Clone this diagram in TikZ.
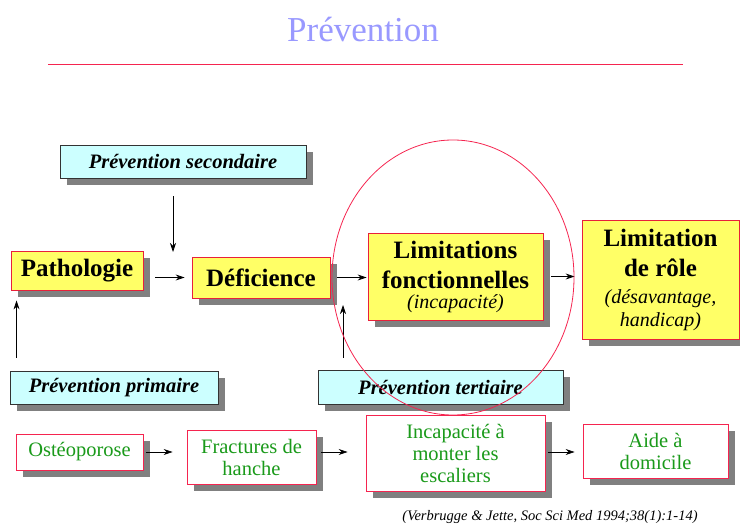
\documentclass[tikz,border=0pt]{standalone}
\usepackage{fontspec}
\setmainfont{Liberation Serif}[ItalicFont={Liberation Serif Italic}, BoldItalicFont={Liberation Serif Bold Italic}]
\usetikzlibrary{arrows.meta,shadows}

\definecolor{boxyellow}{HTML}{FFFF66}
\definecolor{boxcyan}{HTML}{CCFFFF}
\definecolor{boxred}{HTML}{E8203A}
\definecolor{lowred}{HTML}{F5244F}
\definecolor{txtgreen}{HTML}{1A9A1A}
\definecolor{titleblue}{HTML}{9999FF}
\definecolor{shadowgray}{HTML}{808080}

\tikzset{
  shade box/.style={drop shadow={shadow xshift=7pt, shadow yshift=-7pt, fill=shadowgray, opacity=1}},
  mainbox/.style={shade box, draw=boxred, line width=0.9pt, fill=boxyellow, inner sep=0pt,
    align=center, font=\bfseries\fontsize{25}{30}\selectfont},
  prevbox/.style={shade box, draw=black!80, line width=0.9pt, fill=boxcyan, inner sep=0pt,
    font=\bfseries\itshape\fontsize{20.5}{24}\selectfont},
  casebox/.style={shade box, draw=lowred, line width=0.9pt, fill=white, inner sep=0pt,
    align=center, text=txtgreen, font=\fontsize{20.5}{22}\selectfont},
  arr/.style={-{Stealth[length=9pt,width=6pt,inset=3pt]}, line width=0.7pt}
}

\begin{document}
\begin{tikzpicture}[x=1pt,y=-1pt]
  \useasboundingbox (0,0) rectangle (740,524);
  % Title and rule
  \node[anchor=base, text=titleblue, font=\fontsize{35}{40}\selectfont] (title) at (363,42) {Prévention};
  \draw[line width=0.9pt, color=lowred] (48,64) -- (683,64);

  % Prevention labels
  \node[prevbox, minimum width=246pt, minimum height=33pt] (sec) at (183,161.5) {Prévention secondaire};
  \node[prevbox, minimum width=208pt, minimum height=33pt] (prim) at (114,387.5) {Prévention primaire};
  \node[prevbox, minimum width=245pt, minimum height=34pt] (tert) at (440.5,387) {Prévention tertiaire};

  % Main chain
  \node[mainbox, minimum width=132pt, minimum height=39pt] (path) at (77,270.5) {Pathologie};
  \node[mainbox, minimum width=138pt, minimum height=41pt] (def) at (261,277.5) {Déficience};
  \node[mainbox, minimum width=175pt, minimum height=87pt] (limf) at (455.5,276.5)
    {Limitations\\fonctionnelles\\[-10pt]{\mdseries\itshape\fontsize{20}{21}\selectfont (incapacité)}};
  \node[mainbox, minimum width=157pt, minimum height=119pt] (limr) at (660.5,279.5)
    {Limitation\\de rôle\\[-3pt]{\mdseries\itshape\fontsize{20}{21}\selectfont (désavantage,}\\[-7pt]{\mdseries\itshape\fontsize{20}{21}\selectfont handicap)}};

  % Example chain
  \node[casebox, minimum width=127pt, minimum height=36pt] (ost) at (79.5,452) {Ostéoporose};
  \node[casebox, minimum width=129pt, minimum height=54pt] (frac) at (251.5,457) {Fractures de\\hanche};
  \node[casebox, minimum width=179pt, minimum height=76pt] (inc) at (455.5,453) {Incapacité à\\monter les\\escaliers};
  \node[casebox, minimum width=145pt, minimum height=54pt] (aide) at (655.5,451) {Aide à\\domicile};

  % Free ends of the prevention arrows
  \coordinate (secend) at (173,252);
  \coordinate (tertend) at (343,305);

  % Arrows, main chain
  \draw[arr, shorten <=12pt, shorten >=7pt] (path.east |- def.west) -- (def.west);
  \draw[arr, shorten <=7pt, shorten >=1pt] (def.east) -- (limf.west |- def.east);
  \draw[arr, shorten <=8pt, shorten >=7pt] (limf.east) -- (limr.west |- limf.east);

  % Arrows, example chain
  \draw[arr, shorten <=3pt, shorten >=14pt] (ost.east) -- (frac.west |- ost.east);
  \draw[arr, shorten <=5pt, shorten >=18pt] (frac.east |- ost.east) -- (inc.west |- ost.east);
  \draw[arr, shorten <=3pt, shorten >=8pt] (inc.east |- ost.east) -- (aide.west |- ost.east);

  % Arrows from the prevention labels
  \draw[arr, shorten <=18pt] (sec.south -| secend) -- (secend);
  \draw[arr, shorten <=13pt, shorten >=10pt] ([xshift=7pt]prim.north west) -- ([xshift=6pt]path.south west);
  \draw[arr, shorten <=12pt] (tert.north -| tertend) -- (tertend);

  % Circle round the functional limitations
  \draw[line width=0.8pt, color=lowred] (453,277.5) ellipse [x radius=121pt, y radius=137.5pt];

  % Reference
  \node[anchor=base, font=\itshape\fontsize{14.5}{16}\selectfont] (ref) at (550,520)
    {(Verbrugge \& Jette, Soc Sci Med 1994;38(1):1-14)};
\end{tikzpicture}
\end{document}
